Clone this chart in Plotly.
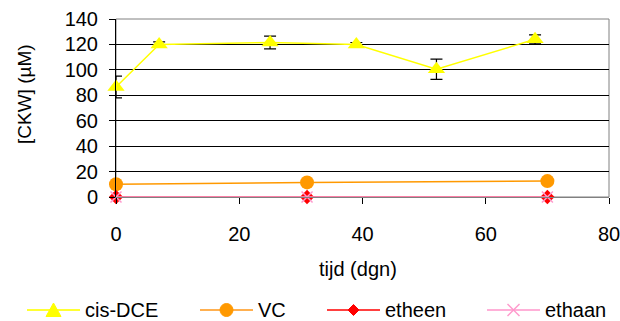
import plotly.graph_objects as go

dce_x = [0, 7, 25, 39, 52, 68]
dce_y = [86.5, 120, 121.5, 120, 100.5, 124]
dce_err = [8.5, 2, 5, 1.5, 8, 3.5]

vc_x = [0, 31, 70]
vc_y = [10, 11.5, 12.5]
vc_err = [0.5, 1, 1]

etheen_x = [0, 31, 70]
etheen_y = [0, 0, 0]

ethaan_x = [0, 31, 70]
ethaan_y = [0, 0, 0]

names = ["cis-DCE", "VC", "etheen", "ethaan"]
colors = ["#FFFF00", "#FF9900", "#FF0000", "#FF99CC"]
legend_line_colors = ["#FFFF33", "#FFB050", "#FF4040", "#FFB0D8"]

W, H = 620, 321
L, R, T, B = 116, 11, 19, 124
PW, PH = W - L - R, H - T - B
FONT = "Liberation Sans, Arial, sans-serif"


def px(x):
    return (x - L) / PW


def py(y):
    return (H - B - y) / PH


fig = go.Figure()
fig.add_trace(go.Scatter(x=dce_x, y=dce_y, name=names[0], mode="lines+markers",
    line=dict(color=colors[0], width=1.5), cliponaxis=False,
    marker=dict(symbol="triangle-up", size=15, color=colors[0]),
    error_y=dict(type="data", array=dce_err, color="black", thickness=1.2, width=6)))
fig.add_trace(go.Scatter(x=vc_x, y=vc_y, name=names[1], mode="lines+markers",
    line=dict(color=colors[1], width=1.5), cliponaxis=False,
    marker=dict(symbol="circle", size=14, color=colors[1]),
    error_y=dict(type="data", array=vc_err, color="black", thickness=1, width=5)))
fig.add_trace(go.Scatter(x=etheen_x, y=etheen_y, name=names[2], mode="lines+markers",
    line=dict(color=colors[2], width=1.5), cliponaxis=False,
    marker=dict(symbol="diamond", size=11, color=colors[2])))
fig.add_trace(go.Scatter(x=ethaan_x, y=ethaan_y, name=names[3], mode="lines+markers",
    line=dict(color=colors[3], width=1.5), cliponaxis=False,
    marker=dict(symbol="x-thin", size=11, line=dict(color=colors[3], width=1.5))))

# custom legend (Excel style: long line with marker in the middle)
leg_y = 310
leg_starts = [27, 200, 327, 487]
shapes = [dict(type="rect", xref="paper", yref="paper", x0=0, x1=1, y0=0, y1=1,
               line=dict(color="#808080", width=1), layer="below")]
annotations = []
for i, x0 in enumerate(leg_starts):
    x1 = x0 + 53
    xm = x0 + 26.5
    shapes.append(dict(type="line", xref="paper", yref="paper",
                       x0=px(x0), x1=px(x1), y0=py(leg_y), y1=py(leg_y),
                       line=dict(color=legend_line_colors[i], width=2)))
    if i == 0:
        path = "M {} {} L {} {} L {} {} Z".format(
            px(xm - 7.5), py(leg_y + 6.5), px(xm + 7.5), py(leg_y + 6.5),
            px(xm), py(leg_y - 7))
        shapes.append(dict(type="path", xref="paper", yref="paper", path=path,
                           fillcolor=colors[0], line=dict(color=colors[0], width=1)))
    elif i == 1:
        shapes.append(dict(type="circle", xref="paper", yref="paper",
                           x0=px(xm - 6.5), x1=px(xm + 6.5),
                           y0=py(leg_y + 6.5), y1=py(leg_y - 6.5),
                           fillcolor=colors[1], line=dict(color=colors[1], width=1)))
    elif i == 2:
        path = "M {} {} L {} {} L {} {} L {} {} Z".format(
            px(xm - 5.5), py(leg_y), px(xm), py(leg_y - 5.5),
            px(xm + 5.5), py(leg_y), px(xm), py(leg_y + 5.5))
        shapes.append(dict(type="path", xref="paper", yref="paper", path=path,
                           fillcolor=colors[2], line=dict(color=colors[2], width=1)))
    else:
        for dy in (-1, 1):
            shapes.append(dict(type="line", xref="paper", yref="paper",
                               x0=px(xm - 6), x1=px(xm + 6),
                               y0=py(leg_y - 6 * dy), y1=py(leg_y + 6 * dy),
                               line=dict(color=colors[3], width=1.5)))
    annotations.append(dict(text=names[i], xref="paper", yref="paper",
                            x=px(x1 + 3), y=py(leg_y), xanchor="left", yanchor="middle",
                            showarrow=False, font=dict(size=20, family=FONT, color="black")))

annotations.append(dict(text="[CKW] (µM)", xref="paper", yref="paper",
                        x=px(24), y=py(94), textangle=-90, showarrow=False,
                        xanchor="center", yanchor="middle",
                        font=dict(size=19, family=FONT, color="black")))
annotations.append(dict(text="tijd (dgn)", xref="paper", yref="paper",
                        x=px(358), y=py(269), showarrow=False,
                        xanchor="center", yanchor="middle",
                        font=dict(size=20, family=FONT, color="black")))

fig.update_layout(
    width=W, height=H,
    margin=dict(l=L, r=R, t=T, b=B),
    plot_bgcolor="white", paper_bgcolor="white",
    font=dict(family=FONT, size=20, color="black"),
    showlegend=False,
    shapes=shapes, annotations=annotations,
    xaxis=dict(range=[0, 80], tickvals=[0, 20, 40, 60, 80], showgrid=False,
               zeroline=False, showline=True, linecolor="#808080", linewidth=1,
               ticks="outside", ticklen=6, tickcolor="black",
               ticklabelstandoff=13, automargin=False, ticklabeloverflow="allow"),
    yaxis=dict(range=[0, 140], tickvals=list(range(0, 141, 20)), showgrid=True,
               gridcolor="black", gridwidth=1, zeroline=False, showline=True,
               linecolor="black", linewidth=1, ticks="outside", ticklen=6,
               tickcolor="black", ticklabelstandoff=7, automargin=False,
               ticklabeloverflow="allow"),
)

fig.write_html("out.html")
